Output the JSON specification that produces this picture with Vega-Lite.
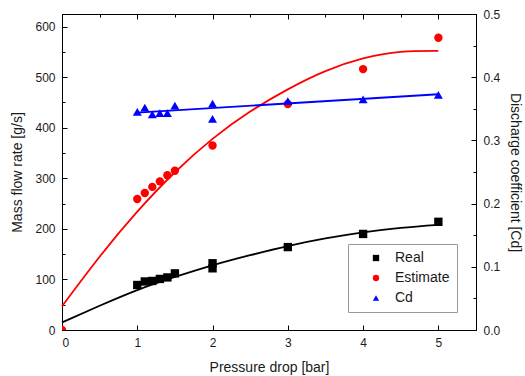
{
  "$schema": "https://vega.github.io/schema/vega-lite/v6.json",
  "width": 414,
  "height": 316,
  "autosize": "none",
  "padding": {"left": 62, "top": 14, "right": 49, "bottom": 46},
  "background": "white",
  "config": {
    "font": "Liberation Sans",
    "view": {"stroke": "black", "strokeWidth": 1},
    "axis": {
      "domainColor": "black",
      "tickColor": "black",
      "tickWidth": 1,
      "labelColor": "#1a1a1a",
      "titleColor": "#1a1a1a",
      "labelFontSize": 12,
      "titleFontSize": 14,
      "titleFontWeight": "normal",
      "grid": false,
      "labelPadding": 12
    },
    "legend": {
      "orient": "none",
      "legendX": 286,
      "legendY": 230,
      "strokeColor": "#999999",
      "fillColor": "white",
      "padding": 7,
      "labelFontSize": 14,
      "labelColor": "#1a1a1a",
      "symbolOffset": 14,
      "labelOffset": 12,
      "rowPadding": 6,
      "symbolSize": 40,
      "symbolStrokeWidth": 0
    }
  },
  "datasets": {
    "pts": [
      {"series": "Real", "p": 1.0, "v": 89},
      {"series": "Real", "p": 1.1, "v": 96},
      {"series": "Real", "p": 1.2, "v": 97},
      {"series": "Real", "p": 1.3, "v": 101},
      {"series": "Real", "p": 1.4, "v": 104},
      {"series": "Real", "p": 1.5, "v": 112},
      {"series": "Real", "p": 2.0, "v": 132},
      {"series": "Real", "p": 2.0, "v": 122},
      {"series": "Real", "p": 3.0, "v": 164},
      {"series": "Real", "p": 4.0, "v": 190},
      {"series": "Real", "p": 5.0, "v": 214},
      {"series": "Estimate", "p": 0.0, "v": 0},
      {"series": "Estimate", "p": 1.0, "v": 259},
      {"series": "Estimate", "p": 1.1, "v": 271},
      {"series": "Estimate", "p": 1.2, "v": 283},
      {"series": "Estimate", "p": 1.3, "v": 294},
      {"series": "Estimate", "p": 1.4, "v": 306},
      {"series": "Estimate", "p": 1.5, "v": 315},
      {"series": "Estimate", "p": 2.0, "v": 365},
      {"series": "Estimate", "p": 3.0, "v": 447},
      {"series": "Estimate", "p": 4.0, "v": 516},
      {"series": "Estimate", "p": 5.0, "v": 578},
      {"series": "Cd", "p": 1.0, "v": 0.345},
      {"series": "Cd", "p": 1.1, "v": 0.352},
      {"series": "Cd", "p": 1.2, "v": 0.341},
      {"series": "Cd", "p": 1.3, "v": 0.343},
      {"series": "Cd", "p": 1.4, "v": 0.343},
      {"series": "Cd", "p": 1.5, "v": 0.355},
      {"series": "Cd", "p": 2.0, "v": 0.358},
      {"series": "Cd", "p": 2.0, "v": 0.334},
      {"series": "Cd", "p": 3.0, "v": 0.362},
      {"series": "Cd", "p": 4.0, "v": 0.365},
      {"series": "Cd", "p": 5.0, "v": 0.372}
    ],
    "fits": [
      {"series": "Real", "p": 0, "v": 15},
      {"series": "Real", "p": 0.5, "v": 48},
      {"series": "Real", "p": 1, "v": 79},
      {"series": "Real", "p": 1.5, "v": 105},
      {"series": "Real", "p": 2, "v": 128},
      {"series": "Real", "p": 2.5, "v": 148},
      {"series": "Real", "p": 3, "v": 166},
      {"series": "Real", "p": 3.5, "v": 181},
      {"series": "Real", "p": 4, "v": 193},
      {"series": "Real", "p": 4.5, "v": 202},
      {"series": "Real", "p": 5, "v": 208},
      {"series": "Estimate", "p": 0, "v": 47},
      {"series": "Estimate", "p": 0.5, "v": 145},
      {"series": "Estimate", "p": 1, "v": 234},
      {"series": "Estimate", "p": 1.5, "v": 312},
      {"series": "Estimate", "p": 2, "v": 378},
      {"series": "Estimate", "p": 2.5, "v": 432},
      {"series": "Estimate", "p": 3, "v": 476},
      {"series": "Estimate", "p": 3.5, "v": 512},
      {"series": "Estimate", "p": 4, "v": 537},
      {"series": "Estimate", "p": 4.5, "v": 550},
      {"series": "Estimate", "p": 5, "v": 552},
      {"series": "Cd", "p": 1, "v": 0.344},
      {"series": "Cd", "p": 5, "v": 0.373}
    ]
  },
  "layer": [
    {
      "encoding": {
        "x": {
          "field": "p", "type": "quantitative",
          "scale": {"domain": [0, 5.5], "nice": false, "zero": false},
          "axis": {
            "title": "Pressure drop [bar]",
            "values": [0, 0.5, 1, 1.5, 2, 2.5, 3, 3.5, 4, 4.5, 5],
            "format": "d",
            "labelExpr": "datum.value % 1 === 0 ? datum.label : ''",
            "tickSize": {"condition": {"test": "datum.value % 1 === 0", "value": -5}, "value": -3},
            "labelPadding": 12,
            "titlePadding": 12
          }
        },
        "y": {
          "field": "v", "type": "quantitative",
          "scale": {"domain": [0, 625], "nice": false},
          "axis": {
            "title": "Mass flow rate [g/s]",
            "values": [0, 50, 100, 150, 200, 250, 300, 350, 400, 450, 500, 550, 600],
            "labelExpr": "datum.value % 100 === 0 ? datum.label : ''",
            "tickSize": {"condition": {"test": "datum.value % 100 === 0", "value": -5}, "value": -3},
            "labelPadding": 12,
            "titlePadding": 10
          }
        }
      },
      "layer": [
        {
          "data": {"name": "fits"},
          "transform": [{"filter": "datum.series === 'Real'"}],
          "mark": {"type": "line", "color": "black", "strokeWidth": 1.8, "interpolate": "natural"}
        },
        {
          "data": {"name": "fits"},
          "transform": [{"filter": "datum.series === 'Estimate'"}],
          "mark": {"type": "line", "color": "#ff0000", "strokeWidth": 1.8, "interpolate": "natural"}
        },
        {
          "data": {"name": "pts"},
          "transform": [{"filter": "datum.series !== 'Cd'"}],
          "mark": {"type": "point", "filled": true, "opacity": 1, "size": 70, "clip": true},
          "encoding": {
            "color": {"field": "series", "type": "nominal", "title": null,
              "scale": {"domain": ["Real", "Estimate", "Cd"], "range": ["black", "#ff0000", "#0000ff"]}},
            "shape": {"field": "series", "type": "nominal", "title": null,
              "scale": {"domain": ["Real", "Estimate", "Cd"], "range": ["square", "circle", "triangle-up"]}}
          }
        }
      ]
    },
    {
      "encoding": {
        "x": {
          "field": "p", "type": "quantitative",
          "scale": {"domain": [0, 5.5], "nice": false, "zero": false},
          "axis": {
            "orient": "top",
            "title": null,
            "values": [0, 0.5, 1, 1.5, 2, 2.5, 3, 3.5, 4, 4.5, 5],
            "labels": false,
            "tickSize": {"condition": {"test": "datum.value % 1 === 0", "value": -5}, "value": -3}
          }
        },
        "y": {
          "field": "v", "type": "quantitative",
          "scale": {"domain": [0, 0.5], "nice": false},
          "axis": {
            "orient": "right",
            "title": "Discharge coefficient [Cd]",
            "values": [0, 0.05, 0.1, 0.15, 0.2, 0.25, 0.3, 0.35, 0.4, 0.45, 0.5],
            "format": ".1f",
            "labelExpr": "round(datum.value * 100) % 10 === 0 ? datum.label : ''",
            "tickSize": {"condition": {"test": "round(datum.value * 100) % 10 === 0", "value": -5}, "value": -3},
            "labelPadding": 12,
            "titlePadding": 8
          }
        }
      },
      "layer": [
        {
          "data": {"name": "fits"},
          "transform": [{"filter": "datum.series === 'Cd'"}],
          "mark": {"type": "line", "color": "#0000ff", "strokeWidth": 1.8}
        },
        {
          "data": {"name": "pts"},
          "transform": [{"filter": "datum.series === 'Cd'"}],
          "mark": {"type": "point", "filled": true, "opacity": 1, "size": 80},
          "encoding": {
            "color": {"field": "series", "type": "nominal", "title": null,
              "scale": {"domain": ["Real", "Estimate", "Cd"], "range": ["black", "#ff0000", "#0000ff"]}},
            "shape": {"field": "series", "type": "nominal", "title": null,
              "scale": {"domain": ["Real", "Estimate", "Cd"], "range": ["square", "circle", "triangle-up"]}}
          }
        }
      ]
    }
  ],
  "resolve": {
    "scale": {"y": "independent"},
    "axis": {"y": "independent", "x": "independent"}
  }
}
